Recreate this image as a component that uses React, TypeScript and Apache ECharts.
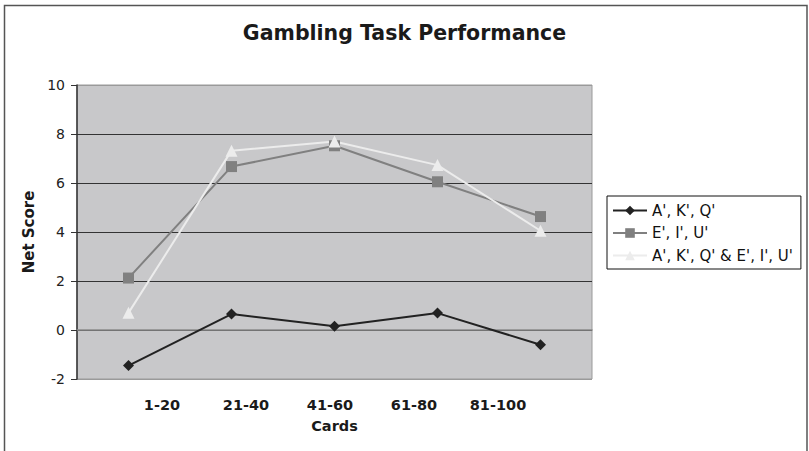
import React, { useEffect, useRef } from "react";
import * as echarts from "echarts";

const categories = ["1-20", "21-40", "41-60", "61-80", "81-100"];
const seriesNames = ["A', K', Q'", "E', I', U'", "A', K', Q' & E', I', U'"];
const akqValues = [-1.45, 0.65, 0.15, 0.69, -0.6];
const eiuValues = [2.12, 6.67, 7.52, 6.05, 4.63];
const combinedValues = [0.7, 7.32, 7.69, 6.73, 4.05];
const yTicks = { min: -2, max: 10, interval: 2 };

const FONT = "DejaVu Sans, Verdana, sans-serif";

export default function App() {
  const ref = useRef<HTMLDivElement>(null);
  useEffect(() => {
    if (!ref.current) return;
    const chart = echarts.init(ref.current, undefined, { renderer: "svg" });
    chart.setOption({
      animation: false,
      backgroundColor: "#ffffff",
      textStyle: { fontFamily: FONT },
      title: {
        text: "Gambling Task Performance",
        left: "center",
        top: 22,
        padding: 0,
        textStyle: { fontFamily: FONT, fontSize: 20.5, fontWeight: "bold", color: "#1a1a1a" },
      },
      legend: {
        orient: "vertical",
        left: 607,
        top: 196,
        padding: [7, 8, 6, 5],
        itemWidth: 34,
        itemHeight: 12,
        itemGap: 7.5,
        backgroundColor: "#ffffff",
        borderColor: "#111",
        borderWidth: 1,
        data: seriesNames,
        textStyle: { fontFamily: FONT, fontSize: 15, color: "#111" },
      },
      grid: [
        { left: 77, top: 85, width: 515, height: 294, show: true, backgroundColor: "#c8c8ca", borderColor: "#9a9a9a", borderWidth: 1 },
        { left: 120, top: 85, width: 420, height: 294, show: false },
      ],
      xAxis: [
        {
          type: "category",
          gridIndex: 0,
          data: categories,
          boundaryGap: true,
          name: "Cards",
          nameLocation: "middle",
          nameGap: 39,
          nameTextStyle: { fontFamily: FONT, fontSize: 14.5, fontWeight: "bold", color: "#1a1a1a" },
          axisLine: { show: true, lineStyle: { color: "#8a8a8a", width: 1.5 } },
          axisTick: { show: false },
          axisLabel: { show: false },
          splitLine: { show: false },
        },
        {
          type: "category",
          gridIndex: 1,
          data: categories,
          boundaryGap: true,
          axisLine: { show: false },
          axisTick: { show: false },
          axisLabel: { show: true, margin: 18, fontFamily: FONT, fontSize: 14.5, fontWeight: "bold", color: "#1a1a1a" },
          splitLine: { show: false },
        },
      ],
      yAxis: [
        {
          type: "value",
          gridIndex: 0,
          min: yTicks.min,
          max: yTicks.max,
          interval: yTicks.interval,
          name: "Net Score",
          nameLocation: "middle",
          nameGap: 37,
          nameRotate: 90,
          nameTextStyle: { fontFamily: FONT, fontSize: 15, fontWeight: "bold", color: "#1a1a1a" },
          axisLine: { show: true, lineStyle: { color: "#333", width: 1.5 } },
          axisTick: { show: true, inside: false, length: 6, lineStyle: { color: "#333" } },
          axisLabel: { margin: 12, fontFamily: FONT, fontSize: 14, color: "#222" },
          splitLine: {
            show: true,
            lineStyle: { color: ["#9a9a9a", "#333", "#333", "#333", "#333", "#333", "#9a9a9a"], width: 1.2 },
          },
        },
        { type: "value", gridIndex: 1, min: 0, max: 1, show: false },
      ],
      series: [
        {
          name: seriesNames[0],
          type: "line",
          xAxisIndex: 0,
          yAxisIndex: 0,
          data: akqValues,
          symbol: "diamond",
          symbolSize: 11,
          lineStyle: { color: "#222", width: 2 },
          itemStyle: { color: "#222" },
        },
        {
          name: seriesNames[1],
          type: "line",
          xAxisIndex: 0,
          yAxisIndex: 0,
          data: eiuValues,
          symbol: "rect",
          symbolSize: 11,
          lineStyle: { color: "#808080", width: 2 },
          itemStyle: { color: "#808080" },
        },
        {
          name: seriesNames[2],
          type: "line",
          xAxisIndex: 0,
          yAxisIndex: 0,
          data: combinedValues,
          symbol: "triangle",
          symbolSize: 12,
          lineStyle: { color: "#ececec", width: 2 },
          itemStyle: { color: "#ececec" },
        },
      ],
      graphic: [
        {
          type: "rect",
          silent: true,
          z: 100,
          shape: { x: 4.5, y: 5.5, width: 802.5, height: 460 },
          style: { fill: "none", stroke: "#555", lineWidth: 1.5 },
        },
      ],
    });
    return () => chart.dispose();
  }, []);
  return (
    <div
      ref={ref}
      style={{ position: "fixed", left: 0, top: 0, width: 809, height: 451 }}
    />
  );
}
